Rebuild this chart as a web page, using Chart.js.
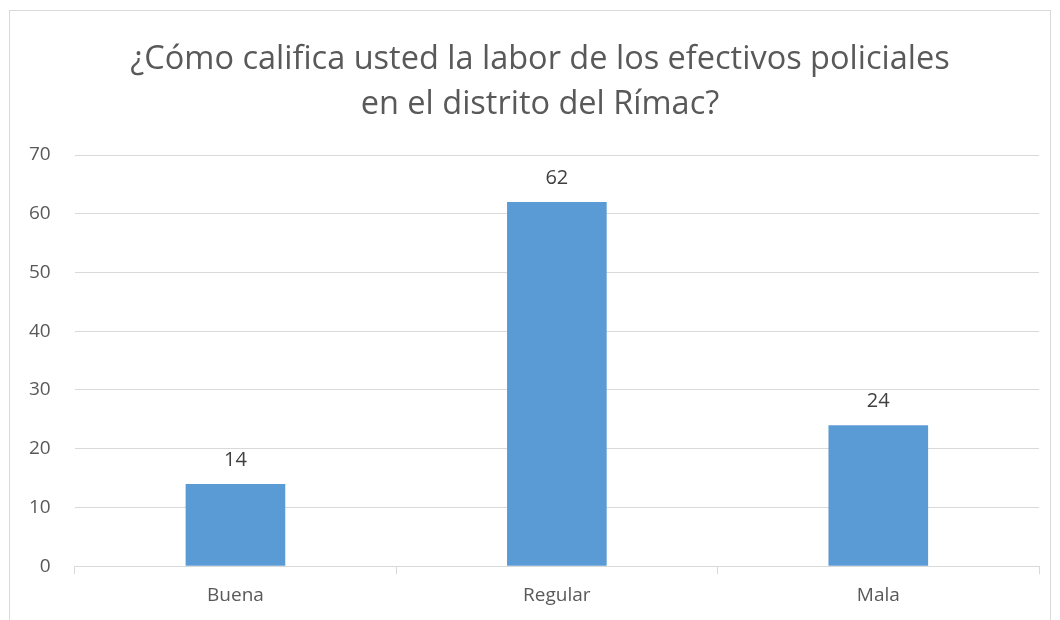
<!DOCTYPE html>
<html>
<head>
<meta charset="utf-8">
<script src="https://cdn.jsdelivr.net/npm/chart.js@4/dist/chart.umd.min.js"></script>
<style>
  html, body { margin: 0; padding: 0; background: #fff; }
  #wrap { width: 1060px; height: 620px; position: relative; }
</style>
</head>
<body>
<div id="wrap"><canvas id="chart"></canvas></div>
<script>
const categories = ['Buena', 'Regular', 'Mala'];
const values = [14, 62, 24];
const titleLines = ['¿Cómo califica usted la labor de los efectivos policiales', 'en el distrito del Rímac?'];

const gray = '#595959';

// frame around the chart, like the office chart area
const framePlugin = {
  id: 'frame',
  beforeDraw(chart) {
    const c = chart.ctx;
    c.save();
    c.strokeStyle = '#d9d9d9';
    c.lineWidth = 1;
    c.strokeRect(9.5, 10.5, 1041, 700);
    c.restore();
  },
  afterLayout(chart) {
    // centre the title on the whole frame, not on the padded box
    if (chart.titleBlock) chart.titleBlock.left += 36;
  }
};

// value labels above each bar
const valueLabels = {
  id: 'valueLabels',
  afterDatasetsDraw(chart) {
    const c = chart.ctx;
    const meta = chart.getDatasetMeta(0);
    c.save();
    c.font = '20px "Open Sans", sans-serif';
    c.fillStyle = '#404040';
    c.textAlign = 'center';
    c.textBaseline = 'middle';
    meta.data.forEach((bar, i) => {
      c.fillText(values[i], bar.x, bar.y - 24);
    });
    c.restore();
  }
};

const ctx = document.getElementById('chart');

new Chart(ctx, {
  type: 'bar',
  data: {
    labels: categories,
    datasets: [{
      data: values,
      backgroundColor: '#5b9bd5',
      categoryPercentage: 1,
      barPercentage: 0.31
    }]
  },
  options: {
    responsive: true,
    maintainAspectRatio: false,
    animation: false,
    layout: { padding: { left: 5, right: 21, top: 37, bottom: 3 } },
    plugins: {
      legend: { display: false },
      tooltip: { enabled: false },
      title: {
        display: true,
        text: titleLines,
        color: gray,
        font: { family: '"Open Sans", sans-serif', size: 32.5, weight: 'normal', lineHeight: 1.385 },
        padding: { top: 0, bottom: 28 }
      }
    },
    scales: {
      x: {
        offset: true,
        grid: { display: true, drawOnChartArea: false, color: '#d9d9d9', tickLength: 8, offset: true },
        border: { color: '#d9d9d9' },
        ticks: { color: gray, font: { family: '"Open Sans", sans-serif', size: 19 }, padding: 10 }
      },
      y: {
        min: 0,
        max: 70,
        ticks: { stepSize: 10, color: gray, font: { family: '"Open Sans", sans-serif', size: 19 }, padding: 24 },
        grid: { color: '#d9d9d9', drawTicks: false },
        border: { display: false }
      }
    }
  },
  plugins: [framePlugin, valueLabels]
});
</script>
</body>
</html>
